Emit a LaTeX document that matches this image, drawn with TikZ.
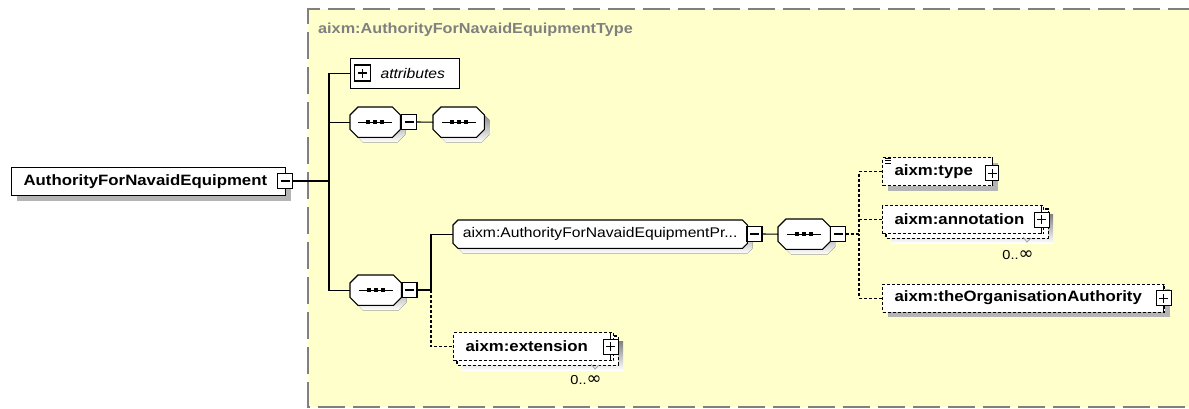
\documentclass[tikz,border=0pt]{standalone}
\usepackage{fontspec}
\setmainfont[FakeStretch=1.12]{Liberation Sans}
\newfontfamily\symfont{DejaVu Sans}
\usetikzlibrary{shadows}
\pgfdeclarelayer{back}
\pgfdeclarelayer{bg}
\pgfsetlayers{back,bg,main}
\definecolor{bgyellow}{RGB}{255,255,204}
\definecolor{framegray}{RGB}{128,128,128}
\definecolor{shade}{RGB}{180,180,180}
\newcommand\fs[1]{\fontsize{#1}{#1}\selectfont}
\tikzset{
 shad/.style={drop shadow={shadow xshift=5pt,shadow yshift=-5pt,fill=shade,opacity=1}},
 elbox/.style={draw, fill=white, line width=1.1pt, inner ysep=0pt, inner xsep=12pt, minimum height=28pt, align=left, anchor=north west, font=\bfseries\fs{15}},
 dsh/.style={dash pattern=on 3pt off 2pt},
 optbox/.style={elbox, dsh},
 pmbox/.style={draw, fill=white, line width=1.1pt, minimum width=15pt, minimum height=15pt, inner sep=0pt},
 minusbox/.style={pmbox, path picture={\draw[line width=1.1pt] ([xshift=-4.5pt]path picture bounding box.center) -- ([xshift=4.5pt]path picture bounding box.center);}},
 plusbox/.style={pmbox, path picture={\draw[line width=1.1pt] ([xshift=-4.5pt]path picture bounding box.center) -- ([xshift=4.5pt]path picture bounding box.center) ([yshift=-4.5pt]path picture bounding box.center) -- ([yshift=4.5pt]path picture bounding box.center);}},
 ghost/.style={inner sep=0pt, anchor=north west},
 conn/.style={line width=1.1pt},
 card/.style={font=\fs{13}, inner sep=0pt},
 tick/.style={draw=framegray!70, line width=0.8pt},
}
\newcommand\octo[2]{%
 \begin{pgfonlayer}{bg}
 \fill[shade, transform canvas={shift={(5pt,-5pt)}}] ([xshift=#2pt]#1.north west) -- ([xshift=-#2pt]#1.north east) -- ([yshift=-#2pt]#1.north east) -- ([yshift=#2pt]#1.south east) -- ([xshift=-#2pt]#1.south east) -- ([xshift=#2pt]#1.south west) -- ([yshift=#2pt]#1.south west) -- ([yshift=-#2pt]#1.north west) -- cycle;
 \filldraw[fill=white, line width=1.1pt] ([xshift=#2pt]#1.north west) -- ([xshift=-#2pt]#1.north east) -- ([yshift=-#2pt]#1.north east) -- ([yshift=#2pt]#1.south east) -- ([xshift=-#2pt]#1.south east) -- ([xshift=#2pt]#1.south west) -- ([yshift=#2pt]#1.south west) -- ([yshift=-#2pt]#1.north west) -- cycle;
 \end{pgfonlayer}}
\newcommand\seqdots[1]{%
 \draw[line width=1.1pt] ([xshift=-17pt]#1.center) -- ([xshift=17pt]#1.center);
 \foreach \d in {-7,0,7} \fill ([xshift=\d pt]#1.center) +(-1.8pt,-1.8pt) rectangle +(1.8pt,1.8pt);}
\newcommand\stacked[1]{%
 \begin{pgfonlayer}{bg}
 \fill[shade] ([shift={(9pt,-9pt)}]#1.north west) rectangle ([shift={(9pt,-9pt)}]#1.south east);
 \draw[line width=1.1pt, dsh, fill=white] ([shift={(4pt,-4pt)}]#1.north west) rectangle ([shift={(4pt,-4pt)}]#1.south east);
 \end{pgfonlayer}}
\newcommand\stubs[2]{%
 \draw[line width=1.1pt] (#2.north) -- (#2.north |- #1.north) (#2.south) -- (#2.south |- #1.south);}
\newcommand\many{0..{\symfont\fs{18}\raisebox{-0.5pt}{∞}}}
\begin{document}
\begin{tikzpicture}[x=1pt,y=-1pt]
\useasboundingbox (0,0) rectangle (1189,408);
\begin{pgfonlayer}{back}
\fill[bgyellow] (308,9) rectangle (1195,407);
\draw[framegray, line width=1.3pt, dash pattern=on 27pt off 8pt] (1195,9) -- (308,9) -- (308,407) -- (1195,407);
\end{pgfonlayer}
\node[anchor=west, text=framegray, font=\bfseries\fs{14.5}, inner sep=0pt] (title) at (318,30) {aixm:AuthorityForNavaidEquipmentType};
% root
\node[elbox, text width=250pt, shad] (root) at (11,167) {AuthorityForNavaidEquipment};
\node[minusbox] (rootm) at (285,181) {};
% attributes
\node[elbox, text width=101pt, inner xsep=4pt, font=\itshape\fs{14}, minimum height=30pt] (attr) at (350,58) {\hspace*{26pt}attributes};
\node[plusbox, minimum width=16pt, minimum height=16pt] (attrp) at (362.5,73) {};
% sequence 1 and 2
\node[ghost, minimum width=50pt, minimum height=30pt] (s1) at (350,107) {};
\octo{s1}{8}\seqdots{s1}
\node[minusbox] (s1m) at (409,122) {};
\node[ghost, minimum width=51pt, minimum height=30pt] (s2) at (433,107) {};
\octo{s2}{8}\seqdots{s2}
% sequence 3
\node[ghost, minimum width=51pt, minimum height=30pt] (s3) at (350,275) {};
\octo{s3}{8}\seqdots{s3}
\node[minusbox] (s3m) at (409.5,290) {};
% group reference
\node[ghost, minimum width=294pt, minimum height=28pt, font=\fs{14}] (pr) at (453,220) {aixm:AuthorityForNavaidEquipmentPr...};
\octo{pr}{5}
\node[minusbox] (prm) at (754.5,234) {};
% sequence 4
\node[ghost, minimum width=52pt, minimum height=30pt] (s4) at (778,219) {};
\octo{s4}{8}\seqdots{s4}
\node[minusbox] (s4m) at (838,234) {};
% children
\node[optbox, text width=86pt, shad] (type) at (882,157) {aixm:type};
\node[plusbox, minimum width=13pt] (typep) at ([xshift=-1pt,yshift=-1.5pt]type.east) {};
\stubs{type}{typep}
\foreach \yy in {0,2.5,5} \draw[line width=0.7pt] (885,158+\yy) -- (891,158+\yy);
\node[optbox, text width=137pt] (ann) at (882,205) {aixm:annotation};
\stacked{ann}
\node[plusbox] (annp) at ([xshift=-2.5pt]ann.east) {};
\stubs{ann}{annp}
\draw[tick] (1023,237) -- (1027,242) -- (1031,238);
\node[card] (annc) at (1018,255) {\many};
\node[optbox, text width=258pt, shad] (org) at (882,283.5) {aixm:theOrganisationAuthority};
\node[plusbox] (orgp) at ([xshift=-1.5pt]org.east) {};
\stubs{org}{orgp}
\node[optbox, text width=136pt] (ext) at (453,332) {aixm:extension};
\stacked{ext}
\node[plusbox] (extp) at ([xshift=-3.5pt]ext.east) {};
\stubs{ext}{extp}
\draw[tick] (591,364) -- (595,369) -- (599,365);
\node[card] (extc) at (586,380) {\many};
% connectors
\coordinate (ttop) at (329,73);
\draw[conn] (rootm.east) -- (rootm.east -| ttop);
\draw[conn] (attr.west) -- (attr.west -| ttop) -- (ttop |- s3.west) -- (s3.west);
\draw[conn] (s1.west) -- (s1.west -| ttop);
\draw[conn] (s1m.east) -- (s2.west);
\coordinate (b1) at (431,290);
\draw[conn] (s3m.east) -- (b1) |- (pr.west);
\draw[conn, dsh] (b1) |- (ext.west);
\draw[conn] (prm.east) -- (s4.west);
\coordinate (b2) at (859,234);
\draw[conn, dsh] (s4m.east) -- (b2);
\draw[conn, dsh] (type.west) -| (b2);
\draw[conn, dsh] (org.west) -| (b2);
\draw[conn, dsh] (ann.west) -- (ann.west -| b2);
\end{tikzpicture}
\end{document}
